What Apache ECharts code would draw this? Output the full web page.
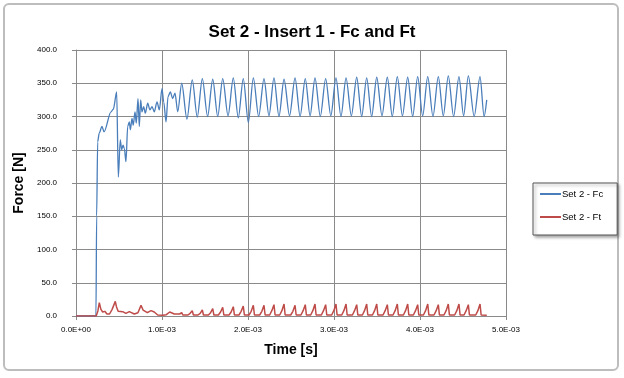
<!DOCTYPE html>
<html>
<head>
<meta charset="utf-8">
<script src="https://cdn.jsdelivr.net/npm/echarts@6/dist/echarts.min.js"></script>
<style>
	html, body { margin: 0; padding: 0; background: #fff; }
	#main { width: 624px; height: 378px; }
</style>
</head>
<body>
<div id="main"></div>
<script>
// time in ms, force in N
var xTickLabels = ['0.0E+00', '1.0E-03', '2.0E-03', '3.0E-03', '4.0E-03', '5.0E-03'];
var seriesNames = ['Set 2 - Fc', 'Set 2 - Ft'];

var fcTimeMs = [
	0, 0.232, 0.240, 0.252, 0.270, 0.302, 0.326, 0.407, 0.434, 0.473,
	0.492, 0.515, 0.531, 0.547, 0.562, 0.581, 0.601, 0.620, 0.632, 0.651,
	0.666, 0.686, 0.701, 0.721, 0.736, 0.752, 0.767, 0.787, 0.806, 0.834,
	0.860, 0.884, 0.910, 0.942, 0.969, 1.000, 1.020, 1.047, 1.070, 1.097,
	1.124, 1.151, 1.183,
	1.229, 1.290, 1.352, 1.410, 1.469, 1.530, 1.590, 1.648, 1.706, 1.768,
	1.829, 1.887, 1.945, 2.004, 2.062, 2.124, 2.186, 2.244, 2.302, 2.360,
	2.419, 2.483, 2.547, 2.606, 2.666, 2.722, 2.779, 2.841, 2.903, 2.963,
	3.023, 3.081, 3.140, 3.202, 3.264, 3.322, 3.380, 3.438, 3.497, 3.558,
	3.620, 3.678, 3.736, 3.796, 3.857, 3.915, 3.973, 4.031, 4.090, 4.151,
	4.213, 4.271, 4.329, 4.391, 4.453, 4.507, 4.562, 4.630, 4.698, 4.745,
	4.776
];
var fcForce = [
	0, 0, 150, 262, 275, 285, 277, 307, 311, 337,
	209, 265, 250, 257, 252, 232, 285, 292, 280, 297,
	287, 307, 290, 327, 285, 325, 307, 315, 305, 320,
	310, 315, 307, 322, 310, 342, 322, 292, 330, 337,
	327, 335, 307,
	350, 296, 355, 299, 357, 300, 356, 300, 357, 301,
	358, 298, 357, 291, 358, 300, 357, 301, 358, 300,
	356, 301, 358, 300, 357, 301, 358, 300, 357, 301,
	358, 300, 358, 301, 359, 300, 358, 300, 359, 301,
	359, 300, 360, 301, 359, 300, 360, 301, 360, 300,
	360, 301, 361, 300, 360, 301, 361, 300, 360, 300,
	325
];

// Ft: irregular start, then one spike (base, shoulder, peak, base) per Fc cycle
var ftTimeMs = [
	0, 0.235, 0.255, 0.271, 0.290, 0.310, 0.335, 0.360, 0.390, 0.420,
	0.457, 0.470, 0.490, 0.504, 0.543, 0.580, 0.620, 0.678, 0.720, 0.756,
	0.780, 0.795, 0.830, 0.872, 0.910, 0.950, 1.008, 1.050, 1.090, 1.105,
	1.143, 1.170,
	1.180, 1.205, 1.229, 1.242,
	1.302, 1.327, 1.352, 1.365,
	1.419, 1.444, 1.469, 1.482,
	1.540, 1.565, 1.590, 1.603,
	1.656, 1.681, 1.706, 1.719,
	1.779, 1.804, 1.829, 1.842,
	1.895, 1.920, 1.945, 1.958,
	2.012, 2.037, 2.062, 2.075,
	2.136, 2.161, 2.186, 2.199,
	2.252, 2.277, 2.302, 2.315,
	2.369, 2.394, 2.419, 2.432,
	2.497, 2.522, 2.547, 2.560,
	2.616, 2.641, 2.666, 2.679,
	2.729, 2.754, 2.779, 2.792,
	2.853, 2.878, 2.903, 2.916,
	2.973, 2.998, 3.023, 3.036,
	3.090, 3.115, 3.140, 3.153,
	3.214, 3.239, 3.264, 3.277,
	3.330, 3.355, 3.380, 3.393,
	3.447, 3.472, 3.497, 3.510,
	3.570, 3.595, 3.620, 3.633,
	3.686, 3.711, 3.736, 3.749,
	3.807, 3.832, 3.857, 3.870,
	3.923, 3.948, 3.973, 3.986,
	4.040, 4.065, 4.090, 4.103,
	4.163, 4.188, 4.213, 4.226,
	4.279, 4.304, 4.329, 4.342,
	4.403, 4.428, 4.453, 4.466,
	4.512, 4.537, 4.562, 4.575,
	4.648, 4.673, 4.698, 4.711,
	4.776
];
var ftForce = [
	0, 0, 8, 20, 10, 6, 7, 3, 3, 10,
	22, 14, 7, 5, 6.5, 4, 6.5, 3, 5, 16,
	9, 8, 5, 8, 6, 1.5, 1, 2, 6, 6.5,
	3, 3,
	1.5, 3, 5, 1.5,
	1.5, 4, 8, 1.5,
	1.5, 4, 9, 1.5,
	1.5, 5, 11, 1.5,
	1.5, 6, 13, 1.5,
	1.5, 6, 14, 1.5,
	1.5, 7, 15, 1.5,
	1.5, 7, 16, 1.5,
	1.5, 7, 16, 1.5,
	1.5, 8, 17, 1.5,
	1.5, 8, 18, 1.5,
	1.5, 7, 16, 1.5,
	1.5, 8, 17, 1.5,
	1.5, 8, 18, 1.5,
	1.5, 8, 17, 1.5,
	1.5, 8, 18, 1.5,
	1.5, 8, 18, 1.5,
	1.5, 8, 17, 1.5,
	1.5, 8, 18, 1.5,
	1.5, 8, 18, 1.5,
	1.5, 8, 17, 1.5,
	1.5, 8, 18, 1.5,
	1.5, 8, 18, 1.5,
	1.5, 8, 17, 1.5,
	1.5, 8, 18, 1.5,
	1.5, 8, 17, 1.5,
	1.5, 8, 18, 1.5,
	1.5, 8, 18, 1.5,
	1.5, 8, 17, 1.5,
	1.5, 8, 18, 1.5,
	1
];

function zip(xs, ys){
	return xs.map(function (x, i) { return [x, ys[i]]; });
}

function forceChart(){
	var chart = echarts.init(document.getElementById('main'));
	var fontName = 'Liberation Sans';
	var gridColor = '#8a8a8a';
	var fcColor = '#4a7ebb';
	var ftColor = '#be4b48';

	var option = {
		animation: false,
		backgroundColor: '#fff',
		title: {
			text: 'Set 2 - Insert 1 - Fc and Ft',
			left: 'center',
			top: 19,
			textStyle: { fontFamily: fontName, fontSize: 17, fontWeight: 'bold', color: '#000' }
		},
		graphic: [{
			type: 'rect',
			shape: { x: 4, y: 4, width: 614, height: 366, r: 5 },
			style: { fill: null, stroke: '#bdbdbd', lineWidth: 2 },
			silent: true
		}],
		legend: {
			data: [
				{ name: seriesNames[0], icon: 'rect', itemStyle: { color: fcColor } },
				{ name: seriesNames[1], icon: 'rect', itemStyle: { color: ftColor } }
			],
			orient: 'vertical',
			left: 533,
			top: 183,
			padding: [6, 14, 13, 7],
			itemGap: 13,
			itemWidth: 21,
			itemHeight: 2,
			backgroundColor: '#fff',
			borderColor: '#555',
			borderWidth: 1,
			shadowColor: 'rgba(0,0,0,0.35)',
			shadowBlur: 3,
			shadowOffsetX: 2,
			shadowOffsetY: 2,
			textStyle: { fontFamily: fontName, fontSize: 9.5, color: '#000', lineHeight: 10, padding: [0, 0, 0, -4] }
		},
		grid: {
			left: 76,
			right: 118,
			top: 50,
			bottom: 62
		},
		xAxis: {
			type: 'value',
			min: 0,
			max: 5,
			interval: 1,
			name: 'Time [s]',
			nameLocation: 'middle',
			nameGap: 27,
			nameTextStyle: { fontFamily: fontName, fontSize: 14, fontWeight: 'bold', color: '#000' },
			axisLine: { show: true, lineStyle: { color: gridColor } },
			axisTick: { show: true, length: 4, lineStyle: { color: gridColor } },
			axisLabel: {
				margin: 10,
				fontFamily: fontName,
				fontSize: 8,
				color: '#000',
				formatter: function (value) {
					return xTickLabels[Math.round(value)];
				}
			},
			splitLine: { show: true, lineStyle: { color: gridColor } }
		},
		yAxis: {
			type: 'value',
			min: 0,
			max: 400,
			interval: 50,
			name: 'Force [N]',
			nameLocation: 'middle',
			nameGap: 41,
			nameTextStyle: { fontFamily: fontName, fontSize: 14, fontWeight: 'bold', color: '#000' },
			axisLine: { show: true, lineStyle: { color: gridColor } },
			axisTick: { show: true, length: 4, lineStyle: { color: gridColor } },
			axisLabel: {
				margin: 19,
				fontFamily: fontName,
				fontSize: 8,
				color: '#000',
				formatter: function (value) {
					return value.toFixed(1);
				}
			},
			splitLine: { show: true, lineStyle: { color: gridColor } }
		},
		series: [{
			name: seriesNames[0],
			type: 'line',
			data: zip(fcTimeMs, fcForce),
			symbol: 'none',
			smooth: 0.3,
			smoothMonotone: 'x',
			color: fcColor,
			lineStyle: { width: 1.3, color: fcColor }
		}, {
			name: seriesNames[1],
			type: 'line',
			data: zip(ftTimeMs, ftForce),
			symbol: 'none',
			color: ftColor,
			lineStyle: { width: 1.5, color: ftColor }
		}]
	};

	chart.setOption(option);
}

forceChart();
</script>
</body>
</html>
